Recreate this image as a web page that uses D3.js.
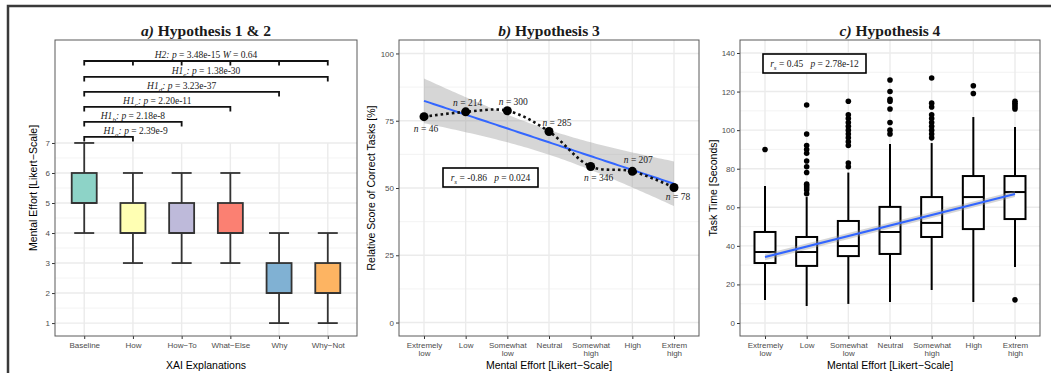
<!DOCTYPE html>
<html>
<head>
<meta charset="utf-8">
<script src="https://cdn.jsdelivr.net/npm/d3@7"></script>
<style>
  body { margin: 0; background: #fff; }
  svg { display: block; }
</style>
</head>
<body>
<svg id="chart" width="1051" height="373"></svg>
<script>
// ---- data: a) mental effort per XAI explanation ----
const explCats = ['Baseline', 'How', 'How\u2212To', 'What\u2212Else', 'Why', 'Why\u2212Not'];
const effortMin = [4, 3, 3, 3, 1, 1];
const effortQ1 = [5, 4, 4, 4, 2, 2];
const effortMed = [5, 4, 4, 4, 2, 2];
const effortQ3 = [6, 5, 5, 5, 3, 3];
const effortMax = [7, 6, 6, 6, 4, 4];

// significance brackets (all start at Baseline)
const bracketTag = ['1', '1', '1', '1', '1', '2'];
const bracketSub = ['a', 'b', 'c', 'd', 'e', ''];
const bracketP = ['2.39e-9', '2.18e-8', '2.20e-11', '3.23e-37', '1.38e-30', '3.48e-15'];
const bracketEnd = ['How', 'How\u2212To', 'What\u2212Else', 'Why', 'Why\u2212Not', 'Why\u2212Not'];
const bracketLevel = [7.2, 7.7, 8.2, 8.7, 9.2, 9.73];
const h2W = '0.64';

// ---- data: b) relative score per mental effort level ----
const effortLevels = ['Extremely\nlow', 'Low', 'Somewhat\nlow', 'Neutral', 'Somewhat\nhigh', 'High', 'Extrem\nhigh'];
const scoreB = [76.5, 78.3, 78.7, 71.0, 58.0, 56.2, 50.2];
const countB = [46, 214, 300, 285, 346, 207, 78];

// ---- data: c) task time per mental effort level ----
const timeMin = [11.9, 8.8, 9.9, 10.9, 17.1, 10.9, 29];
const timeQ1 = [31.1, 29.6, 34.7, 35.8, 44.6, 48.7, 53.9];
const timeMed = [36.8, 36.8, 39.9, 47.2, 51.9, 65.3, 67.9];
const timeQ3 = [47.2, 44.6, 52.9, 60.2, 65.3, 76.2, 76.2];
const timeMax = [71, 65.3, 78, 92.8, 93.3, 106.8, 101.6];
const timeOutliers = [
  [90],
  [113, 98, 92, 90, 88, 84, 81, 78, 72, 71, 70, 69, 67],
  [115, 108, 106, 104, 102, 100, 98, 96, 94, 92, 83, 81],
  [126, 120, 116, 115, 111, 104, 100, 98],
  [127, 114, 112, 108, 106, 104, 102, 100, 98, 96],
  [123, 119],
  [115, 114, 113, 112, 111, 12]
];
const timeTrend = [34.2, 66.9];      // smooth fit at first / last level
const timeTrendSE = [1.6, 1.6];

// correlation annotations (b, c)
const corrR = ['-0.86', '0.45'];
const corrP = ['0.024', '2.78e-12'];

// palette (Set3)
const explColors = ['#8DD3C7', '#FFFFB3', '#BEBADA', '#FB8072', '#80B1D3', '#FDB462'];

const SANS = '"Liberation Sans", Arial, Helvetica, sans-serif';
const SERIF = '"Liberation Serif", "Times New Roman", serif';

const svg = d3.select('#chart');
svg.append('rect').attr('width', 1051).attr('height', 373).attr('fill', '#fff');

// outer frame (top + left only)
svg.append('path').attr('d', 'M8,373 V6 H1051')
  .attr('fill', 'none').attr('stroke', '#3a3a3a').attr('stroke-width', 2.5);

// serif text with italic parts and subscripts
function rich(g, x, y, parts, size, anchor) {
  const t = g.append('text').attr('x', x).attr('y', y)
    .attr('text-anchor', anchor || 'middle')
    .style('white-space', 'pre')
    .style('font-family', SERIF).style('font-size', size + 'px').style('fill', '#1a1a1a');
  let down = false;
  parts.forEach(p => {
    const s = t.append('tspan').text(p.t);
    if (p.i) s.style('font-style', 'italic');
    if (p.b) s.style('font-weight', 'bold');
    if (p.sub) {
      s.attr('dy', size * 0.3).style('font-size', (size * 0.75) + 'px');
      down = true;
    } else if (down) {
      s.attr('dy', -size * 0.3);
      down = false;
    }
  });
  return t;
}

function panel(box, x, y, opts) {
  const g = svg.append('g');
  // grid
  const grid = g.append('g');
  const gridTop = opts.gridTop !== undefined ? y(opts.gridTop) : box.top;
  grid.selectAll('.minor').data(opts.minor).enter().append('line')
    .attr('x1', box.left).attr('x2', box.right)
    .attr('y1', d => y(d)).attr('y2', d => y(d))
    .attr('stroke', '#f0f0f0').attr('stroke-width', 0.8);
  grid.selectAll('.major').data(opts.major).enter().append('line')
    .attr('x1', box.left).attr('x2', box.right)
    .attr('y1', d => y(d)).attr('y2', d => y(d))
    .attr('stroke', '#ebebeb').attr('stroke-width', 1.4);
  grid.selectAll('.vert').data(x.domain()).enter().append('line')
    .attr('x1', d => x(d)).attr('x2', d => x(d))
    .attr('y1', gridTop).attr('y2', box.bottom)
    .attr('stroke', '#ebebeb').attr('stroke-width', 1.4);

  // axes
  const ya = g.append('g').attr('transform', `translate(${box.left},0)`)
    .call(d3.axisLeft(y).tickValues(opts.major).tickSize(3).tickPadding(2));
  const xa = g.append('g').attr('transform', `translate(0,${box.bottom})`)
    .call(d3.axisBottom(x).tickSize(3).tickPadding(3).tickFormat(''));
  [ya, xa].forEach(a => {
    a.select('.domain').remove();
    a.selectAll('.tick line').attr('stroke', '#333').attr('stroke-width', 1);
    a.selectAll('text').style('font-family', SANS).style('font-size', '8px').style('fill', '#4d4d4d');
  });
  xa.selectAll('.tick').append('text')
    .attr('text-anchor', 'middle').attr('y', 11.5)
    .style('font-family', SANS).style('font-size', '8px').style('fill', '#4d4d4d')
    .each(function (d) {
      d.split('\n').forEach((line, i) => {
        d3.select(this).append('tspan').attr('x', 0).attr('dy', i ? 8.5 : 0).text(line);
      });
    });

  // titles
  g.append('text').attr('x', opts.yTitleX).attr('y', (box.top + box.bottom) / 2)
    .attr('transform', `rotate(-90,${opts.yTitleX},${(box.top + box.bottom) / 2})`)
    .attr('text-anchor', 'middle').attr('dy', '0.35em')
    .style('font-family', SANS).style('font-size', '10.5px').style('fill', '#000')
    .text(opts.yTitle);
  g.append('text').attr('x', (box.left + box.right) / 2).attr('y', 368.5)
    .attr('text-anchor', 'middle')
    .style('font-family', SANS).style('font-size', '10.5px').style('fill', '#000')
    .text(opts.xTitle);
  rich(g, (box.left + box.right) / 2, 36,
    [{ t: opts.letter, i: true, b: true }, { t: ' ' + opts.title, b: true }], 15.5);

  const plot = g.append('g');
  // border drawn last
  g.append('rect').attr('x', box.left).attr('y', box.top)
    .attr('width', box.right - box.left).attr('height', box.bottom - box.top)
    .attr('fill', 'none').attr('stroke', '#5a5a5a').attr('stroke-width', 1);
  return plot;
}

function corrBox(g, x0, y0, w, h, r, p) {
  g.append('rect').attr('x', x0).attr('y', y0).attr('width', w).attr('height', h)
    .attr('fill', '#fff').attr('stroke', '#000').attr('stroke-width', 1.6);
  rich(g, x0 + w / 2, y0 + h / 2 + 3.5, [
    { t: 'r', i: true }, { t: 's', i: true, sub: true }, { t: ' = ' + r + '   ' },
    { t: 'p', i: true }, { t: ' = ' + p }
  ], 9.5);
}

// ================= a) Hypothesis 1 & 2 =================
const A = { left: 55, right: 357, top: 40, bottom: 336 };
const xA = d3.scalePoint().domain(explCats).range([A.left, A.right]).padding(0.6);
const yA = d3.scaleLinear().domain([0.57, 10.43]).range([A.bottom, A.top]);
const pa = panel(A, xA, yA, {
  major: [1, 2, 3, 4, 5, 6, 7], minor: [1.5, 2.5, 3.5, 4.5, 5.5, 6.5], gridTop: 7,
  yTitle: 'Mental Effort [Likert\u2212Scale]', yTitleX: 33, xTitle: 'XAI Explanations',
  letter: 'a)', title: 'Hypothesis 1 & 2'
});

explCats.forEach((c, i) => {
  const cx = xA(c), bw = 25, cw = 20;
  const g = pa.append('g').attr('stroke', '#333').attr('stroke-width', 1.8);
  g.append('line').attr('x1', cx).attr('x2', cx).attr('y1', yA(effortMin[i])).attr('y2', yA(effortMax[i]));
  [effortMin[i], effortMax[i]].forEach(v => {
    g.append('line').attr('x1', cx - cw / 2).attr('x2', cx + cw / 2).attr('y1', yA(v)).attr('y2', yA(v));
  });
  g.append('rect').attr('x', cx - bw / 2).attr('width', bw)
    .attr('y', yA(effortQ3[i])).attr('height', yA(effortQ1[i]) - yA(effortQ3[i]))
    .attr('fill', explColors[i]);
  g.append('line').attr('x1', cx - bw / 2).attr('x2', cx + bw / 2)
    .attr('y1', yA(effortMed[i])).attr('y2', yA(effortMed[i]));
});

bracketLevel.forEach((lv, i) => {
  const x0 = xA(explCats[0]), x1 = xA(bracketEnd[i]), yy = yA(lv);
  let d = `M${x0},${yy + 4.5} V${yy} H${x1} V${yy + 4.5}`;
  if (bracketTag[i] === '2') {
    explCats.slice(1, -1).forEach(c => { d += ` M${xA(c)},${yy} V${yy + 4.5}`; });
  }
  pa.append('path').attr('d', d).attr('fill', 'none')
    .attr('stroke', '#111').attr('stroke-width', 1.8);
  const parts = [{ t: 'H' + bracketTag[i], i: true }];
  if (bracketSub[i]) parts.push({ t: bracketSub[i], i: true, sub: true });
  parts.push({ t: ': ', i: true }, { t: 'p', i: true }, { t: ' = ' + bracketP[i] });
  if (bracketTag[i] === '2') parts.push({ t: ' ' }, { t: 'W', i: true }, { t: ' = ' + h2W });
  const shift = i === 0 ? 27 : 0;
  rich(pa, (x0 + x1) / 2 + shift, yy - 3, parts, 9.5);
});

// ================= b) Hypothesis 3 =================
const B = { left: 399, right: 699, top: 40, bottom: 336 };
const xB = d3.scalePoint().domain(effortLevels).range([B.left, B.right]).padding(0.6);
const yB = d3.scaleLinear().domain([-5, 105]).range([B.bottom, B.top]);
const pb = panel(B, xB, yB, {
  major: [0, 25, 50, 75, 100], minor: [12.5, 37.5, 62.5, 87.5],
  yTitle: 'Relative Score of Correct Tasks [%]', yTitleX: 371,
  xTitle: 'Mental Effort [Likert\u2212Scale]', letter: 'b)', title: 'Hypothesis 3'
});

// linear fit with 95% band (geom_smooth, method = lm)
(function () {
  const n = scoreB.length;
  const xs = scoreB.map((_, i) => i + 1);
  const mx = d3.mean(xs), my = d3.mean(scoreB);
  const sxx = d3.sum(xs, v => (v - mx) ** 2);
  const slope = d3.sum(xs, (v, i) => (v - mx) * (scoreB[i] - my)) / sxx;
  const icpt = my - slope * mx;
  const s = Math.sqrt(d3.sum(xs, (v, i) => (scoreB[i] - (icpt + slope * v)) ** 2) / (n - 2));
  const tq = 2.571;
  const xNum = d3.scaleLinear().domain([1, n]).range([xB(effortLevels[0]), xB(effortLevels[n - 1])]);
  const pts = d3.range(0, 81).map(k => {
    const xv = 1 + (n - 1) * k / 80;
    const fit = icpt + slope * xv;
    const se = s * Math.sqrt(1 / n + (xv - mx) ** 2 / sxx);
    return { xv, fit, lo: fit - tq * se, hi: fit + tq * se };
  });
  pb.append('path').datum(pts)
    .attr('d', d3.area().x(d => xNum(d.xv)).y0(d => yB(d.lo)).y1(d => yB(d.hi)))
    .attr('fill', '#999').attr('fill-opacity', 0.4);
  pb.append('path').datum(pts)
    .attr('d', d3.line().x(d => xNum(d.xv)).y(d => yB(d.fit)))
    .attr('fill', 'none').attr('stroke', '#3366FF').attr('stroke-width', 2);
})();

pb.append('path').datum(scoreB)
  .attr('d', d3.line().x((d, i) => xB(effortLevels[i])).y(d => yB(d)).curve(d3.curveCatmullRom))
  .attr('fill', 'none').attr('stroke', '#111').attr('stroke-width', 2.6)
  .attr('stroke-dasharray', '2.6,3');
pb.selectAll('.pt').data(scoreB).enter().append('circle')
  .attr('cx', (d, i) => xB(effortLevels[i])).attr('cy', d => yB(d))
  .attr('r', 4.5).attr('fill', '#000');

const nLabelOffset = [[2, 15], [2, -6], [6, -6], [8, -5], [8, 15], [6, -8], [4, 13]];
countB.forEach((c, i) => {
  rich(pb, xB(effortLevels[i]) + nLabelOffset[i][0], yB(scoreB[i]) + nLabelOffset[i][1],
    [{ t: 'n', i: true }, { t: ' = ' + c }], 9.5);
});
corrBox(pb, 443, 168, 95, 19, corrR[0], corrP[0]);

// ================= c) Hypothesis 4 =================
const C = { left: 740, right: 1040, top: 40, bottom: 336 };
const xC = d3.scalePoint().domain(effortLevels).range([C.left, C.right]).padding(0.6);
const yC = d3.scaleLinear().domain([-6.74, 146.74]).range([C.bottom, C.top]);
const pc = panel(C, xC, yC, {
  major: [0, 20, 40, 60, 80, 100, 120, 140], minor: [10, 30, 50, 70, 90, 110, 130],
  yTitle: 'Task Time [Seconds]', yTitleX: 713,
  xTitle: 'Mental Effort [Likert\u2212Scale]', letter: 'c)', title: 'Hypothesis 4'
});

effortLevels.forEach((c, i) => {
  const cx = xC(c), bw = 21;
  const g = pc.append('g').attr('stroke', '#000').attr('stroke-width', 2);
  g.append('line').attr('x1', cx).attr('x2', cx).attr('y1', yC(timeMin[i])).attr('y2', yC(timeQ1[i]));
  g.append('line').attr('x1', cx).attr('x2', cx).attr('y1', yC(timeQ3[i])).attr('y2', yC(timeMax[i]));
  g.append('rect').attr('x', cx - bw / 2).attr('width', bw)
    .attr('y', yC(timeQ3[i])).attr('height', yC(timeQ1[i]) - yC(timeQ3[i]))
    .attr('fill', '#fff');
  g.append('line').attr('x1', cx - bw / 2).attr('x2', cx + bw / 2)
    .attr('y1', yC(timeMed[i])).attr('y2', yC(timeMed[i]));
  pc.selectAll(null).data(timeOutliers[i]).enter().append('circle')
    .attr('cx', cx).attr('cy', d => yC(d)).attr('r', 2.8).attr('fill', '#000');
});

(function () {
  const last = effortLevels.length - 1;
  const xNum = d3.scaleLinear().domain([0, 1]).range([xC(effortLevels[0]), xC(effortLevels[last])]);
  const pts = [0, 1].map(k => ({ k, fit: timeTrend[k], se: timeTrendSE[k] }));
  pc.append('path').datum(pts)
    .attr('d', d3.area().x(d => xNum(d.k)).y0(d => yC(d.fit - d.se)).y1(d => yC(d.fit + d.se)))
    .attr('fill', '#999').attr('fill-opacity', 0.4);
  pc.append('path').datum(pts)
    .attr('d', d3.line().x(d => xNum(d.k)).y(d => yC(d.fit)))
    .attr('fill', 'none').attr('stroke', '#3366FF').attr('stroke-width', 2.2);
})();

corrBox(pc, 763, 54, 103, 19, corrR[1], corrP[1]);
</script>
</body>
</html>
